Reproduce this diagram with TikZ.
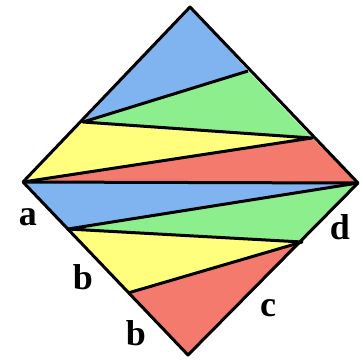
\documentclass[tikz,border=0pt]{standalone}
\usepackage{fontspec}
\setmainfont{Liberation Serif}
\usepackage{tikz}
\usetikzlibrary{positioning}

\definecolor{pblue}{RGB}{128,180,240}
\definecolor{pgreen}{RGB}{140,238,140}
\definecolor{pyellow}{RGB}{255,255,125}
\definecolor{pred}{RGB}{244,122,110}

\begin{document}
\begin{tikzpicture}[x=1pt,y=-1pt,line join=round,
  edge/.style={line width=3pt},
  lbl/.style={inner sep=0pt,font=\fontsize{36}{36}\selectfont\bfseries}]
\useasboundingbox (0,0) rectangle (364,360);
% corners of the square
\coordinate (T) at (190,7);
\coordinate (L) at (23,182);
\coordinate (R) at (358,183);
\coordinate (B) at (188,355);
% points on the sides
\coordinate (P1) at (248,71);
\coordinate (P2) at (83,122);
\coordinate (P3) at (312,138);
\coordinate (Q1) at (68,229);
\coordinate (Q2) at (302,242);
\coordinate (Q3) at (128,293);
% upper half
\fill[pblue] (T) -- (P2) -- (P1) -- cycle;
\fill[pgreen] (P2) -- (P1) -- (P3) -- cycle;
\fill[pyellow] (L) -- (P2) -- (P3) -- cycle;
\fill[pred] (L) -- (P3) -- (R) -- cycle;
% lower half
\fill[pblue] (L) -- (R) -- (Q1) -- cycle;
\fill[pgreen] (Q1) -- (R) -- (Q2) -- cycle;
\fill[pyellow] (Q1) -- (Q2) -- (Q3) -- cycle;
\fill[pred] (Q3) -- (Q2) -- (B) -- cycle;
% lines
\draw[edge] (L) -- (R);
\draw[edge] (P1) -- (P2) -- (P3) -- (L);
\draw[edge] (R) -- (Q1) -- (Q2) -- (Q3);
\draw[edge] (T) -- (R) -- (B) -- (L) -- cycle;
% labels
\node[lbl] (la) at (28,217) {a};
\node[lbl] (lb1) at (83,277) {b};
\node[lbl] (lb2) at (136,333) {b};
\node[lbl] (lc) at (268,308) {c};
\node[lbl] (ld) at (340,227) {d};
\end{tikzpicture}
\end{document}
